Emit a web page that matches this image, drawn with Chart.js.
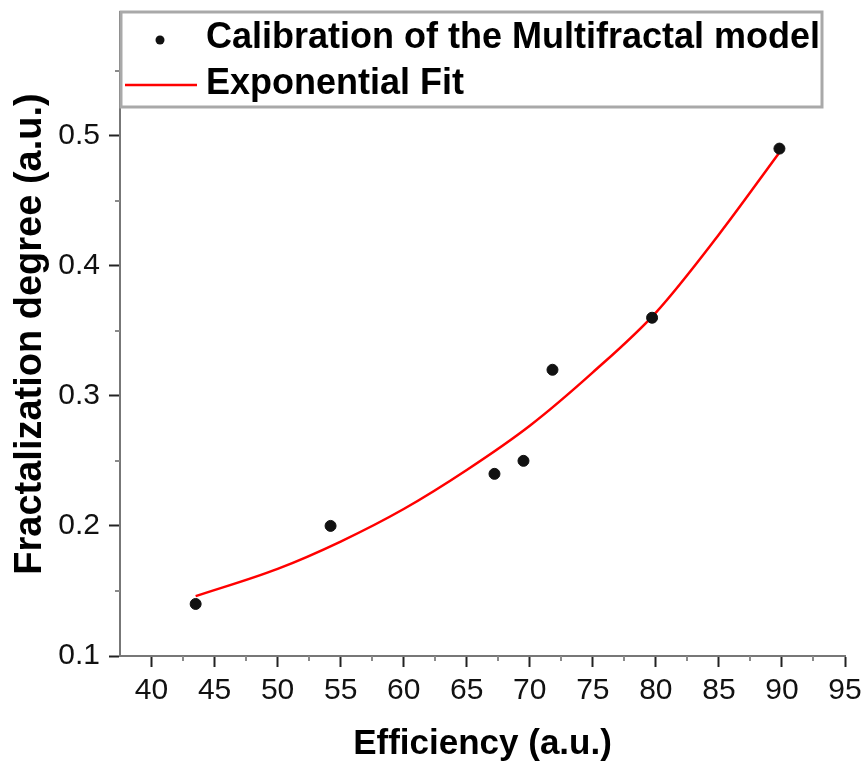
<!DOCTYPE html>
<html>
<head>
<meta charset="utf-8">
<title>Fractalization degree vs Efficiency</title>
<script src="https://cdn.jsdelivr.net/npm/chart.js@4.4.1/dist/chart.umd.min.js"></script>
<style>
  html, body { margin: 0; padding: 0; background: #fff; }
  #wrap { width: 867px; height: 764px; }
</style>
</head>
<body>
<div id="wrap"><canvas id="chart-frac" width="867" height="764"></canvas></div>
<script>
/* ── Datos ── */
const efficiency   = [43.5, 54.2, 67.2, 69.5, 71.8, 79.7, 89.8];
const fractal      = [0.14, 0.20, 0.24, 0.25, 0.32, 0.36, 0.49];

// curva del ajuste exponencial, puntos leídos a lo largo de la línea roja
const fitEff       = [43.5, 50, 55, 60, 65, 70, 75, 80, 85, 89.8];
const fitFrac      = [0.146, 0.167, 0.188, 0.213, 0.243, 0.277, 0.318, 0.364, 0.424, 0.487];

const xTicks       = [40, 45, 50, 55, 60, 65, 70, 75, 80, 85, 90, 95];
const xMinor       = [42.5, 47.5, 52.5, 57.5, 62.5, 67.5, 72.5, 77.5, 82.5, 87.5, 92.5];
const yTicks       = [0.1, 0.2, 0.3, 0.4, 0.5];
const yMinor       = [0.15, 0.25, 0.35, 0.45, 0.55];

const labelPoints  = 'Calibration of the Multifractal model';
const labelFit     = 'Exponential Fit';
const xTitle       = 'Efficiency (a.u.)';
const yTitle       = 'Fractalization degree (a.u.)';

const FONT = "'Liberation Sans', Arial, sans-serif";

/* ── Marcas menores ── */
const minorTicks = {
  id: 'minorTicks',
  afterDraw(chart) {
    const { ctx, scales: { x, y } } = chart;
    ctx.save();
    ctx.strokeStyle = '#8a8a8a';
    ctx.lineWidth = 2;
    xMinor.forEach(v => {
      const px = Math.round(x.getPixelForValue(v));
      ctx.beginPath(); ctx.moveTo(px, x.top); ctx.lineTo(px, x.top + 5); ctx.stroke();
    });
    yMinor.forEach(v => {
      const py = Math.round(y.getPixelForValue(v));
      ctx.beginPath(); ctx.moveTo(y.right - 5, py); ctx.lineTo(y.right, py); ctx.stroke();
    });
    ctx.restore();
  }
};

/* ── Leyenda dentro del área ── */
const boxLegend = {
  id: 'boxLegend',
  afterDraw(chart) {
    const { ctx, chartArea: a } = chart;
    const ds = chart.data.datasets;
    const bx = a.left + 1, by = a.top, bw = 701, bh = 95;
    ctx.save();
    ctx.strokeStyle = '#a9a9a9';
    ctx.lineWidth = 3;
    ctx.strokeRect(bx, by, bw, bh);

    const row1 = by + 26, row2 = by + 72;
    // símbolo de puntos
    ctx.fillStyle = ds[0].backgroundColor;
    ctx.beginPath(); ctx.arc(bx + 39, row1 + 2, 4.5, 0, Math.PI * 2); ctx.fill();
    // línea roja
    ctx.strokeStyle = ds[1].borderColor;
    ctx.lineWidth = 2.5;
    ctx.beginPath(); ctx.moveTo(bx + 4, row2 + 1); ctx.lineTo(bx + 76, row2 + 1); ctx.stroke();

    ctx.fillStyle = '#000';
    ctx.font = `bold 36px ${FONT}`;
    ctx.textBaseline = 'middle';
    ctx.textAlign = 'left';
    ctx.fillText(ds[0].label, bx + 85, row1);
    ctx.fillText(ds[1].label, bx + 85, row2);
    ctx.restore();
  }
};

const ctx = document.getElementById('chart-frac').getContext('2d');
const chartFrac = new Chart(ctx, {
  type: 'scatter',
  data: {
    datasets: [
      {
        label: labelPoints,
        data: efficiency.map((v, i) => ({ x: v, y: fractal[i] })),
        backgroundColor: '#111',
        borderColor: '#111',
        pointRadius: 5.5,
        pointStyle: 'circle',
        order: 1,
      },
      {
        label: labelFit,
        data: fitEff.map((v, i) => ({ x: v, y: fitFrac[i] })),
        showLine: true,
        borderColor: '#ff0000',
        backgroundColor: '#ff0000',
        borderWidth: 2.5,
        pointRadius: 0,
        cubicInterpolationMode: 'monotone',
        order: 2,
      },
    ]
  },
  options: {
    responsive: false,
    devicePixelRatio: 1,
    animation: false,
    layout: { padding: { top: 12, right: 22, left: 0, bottom: 0 } },
    plugins: {
      legend: { display: false },
      tooltip: { enabled: false },
    },
    scales: {
      x: {
        type: 'linear',
        min: 37.5,
        max: 95,
        afterBuildTicks: s => { s.ticks = xTicks.map(v => ({ value: v })); },
        afterFit: s => { s.height = 108; s.paddingLeft = 0; s.paddingRight = 0; },
        border: { color: '#777', width: 2 },
        grid: { display: true, drawOnChartArea: false, drawTicks: true, tickLength: 11, tickColor: '#222', tickWidth: 2 },
        ticks: { color: '#111', padding: 9, font: { family: FONT, size: 30, lineHeight: 1 } },
        title: {
          display: true, text: xTitle, color: '#000',
          font: { family: FONT, size: 35, weight: 'bold', lineHeight: 1 },
          padding: { top: 2, bottom: 2 },
        },
      },
      y: {
        type: 'linear',
        min: 0.1,
        max: 0.595,
        afterBuildTicks: s => { s.ticks = yTicks.map(v => ({ value: v })); },
        afterFit: s => { s.width = 120; s.paddingTop = 0; s.paddingBottom = 0; },
        border: { color: '#777', width: 2 },
        grid: { display: true, drawOnChartArea: false, drawTicks: true, tickLength: 11, tickColor: '#222', tickWidth: 2 },
        ticks: { color: '#111', padding: 9, font: { family: FONT, size: 30, lineHeight: 1 } },
        title: {
          display: true, text: yTitle, color: '#000',
          font: { family: FONT, size: 38, weight: 'bold', lineHeight: 1 },
          padding: { top: 12, bottom: 12 },
        },
      },
    },
  },
  plugins: [minorTicks, boxLegend],
});
</script>
</body>
</html>
